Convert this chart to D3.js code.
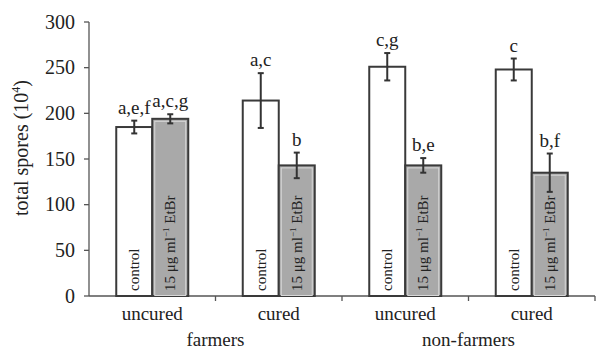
<!DOCTYPE html>
<html>
<head>
<meta charset="utf-8">
<script src="https://cdn.jsdelivr.net/npm/d3@7"></script>
</head>
<body style="margin:0;background:#fff">
<svg id="chart" width="598" height="351" style="font-family:'Liberation Serif'"></svg>
<script>
// categories
var groups = ['farmers', 'non-farmers'];
var categories = ['farmers uncured', 'farmers cured', 'non-farmers uncured', 'non-farmers cured'];
var categoryLabels = ['uncured', 'cured', 'uncured', 'cured'];
var treatments = ['control', 'EtBr'];

// series values (10^4 spores)
var controlValues = [185, 214, 251, 248];
var controlErrors = [7, 30, 15, 12];
var etbrValues = [194, 143, 143, 135];
var etbrErrors = [5, 14, 8, 21];

// significance letters
var controlLetters = ['a,e,f', 'a,c', 'c,g', 'c'];
var etbrLetters = ['a,c,g', 'b', 'b,e', 'b,f'];

var yTicks = [0, 50, 100, 150, 200, 250, 300];

var svg = d3.select('#chart');
var margin = { top: 22, right: 3, bottom: 55, left: 89 };
var width = 598 - margin.left - margin.right;
var height = 351 - margin.top - margin.bottom;

var g = svg.append('g')
  .attr('transform', 'translate(' + margin.left + ',' + margin.top + ')');

var x = d3.scaleBand()
  .domain(categories)
  .range([0, width]);

var xInner = d3.scaleBand()
  .domain(treatments)
  .range([0, 72]);

var y = d3.scaleLinear()
  .domain([0, 300])
  .range([height, 0]);

var offset = (x.bandwidth() - 72) / 2;

// y axis, drawn by hand from the scale
var yAxis = g.append('g').attr('class', 'y axis');
yAxis.append('line')
  .attr('x1', 0).attr('x2', 0)
  .attr('y1', y(300)).attr('y2', y(0))
  .attr('stroke', '#555').attr('stroke-width', 1.3);
var yt = yAxis.selectAll('.tick')
  .data(yTicks)
  .enter().append('g')
  .attr('class', 'tick')
  .attr('transform', function (d) { return 'translate(0,' + y(d) + ')'; });
yt.append('line')
  .attr('x1', -5).attr('x2', 0)
  .attr('stroke', '#555').attr('stroke-width', 1.3);
yt.append('text')
  .attr('x', -14)
  .attr('dy', '0.34em')
  .attr('text-anchor', 'end')
  .attr('font-size', 20)
  .text(function (d) { return d; });

// x axis
g.append('line')
  .attr('x1', 0).attr('x2', width)
  .attr('y1', y(0)).attr('y2', y(0))
  .attr('stroke', '#555').attr('stroke-width', 1.3);

var boundaries = categories.map(function (c) { return x(c) + x.bandwidth(); });
g.selectAll('.xtick')
  .data(boundaries)
  .enter().append('line')
  .attr('x1', function (d) { return d; })
  .attr('x2', function (d) { return d; })
  .attr('y1', y(0))
  .attr('y2', y(0) + 5)
  .attr('stroke', '#555').attr('stroke-width', 1.3);

g.selectAll('.catlabel')
  .data(categories)
  .enter().append('text')
  .attr('x', function (d) { return x(d) + x.bandwidth() / 2; })
  .attr('y', height + 24)
  .attr('text-anchor', 'middle')
  .attr('font-size', 19)
  .text(function (d, i) { return categoryLabels[i]; });

g.selectAll('.grouplabel')
  .data(groups)
  .enter().append('text')
  .attr('x', function (d, i) { return x(categories[i * 2]) + x.bandwidth(); })
  .attr('y', height + 50)
  .attr('text-anchor', 'middle')
  .attr('font-size', 19)
  .text(function (d) { return d; });

// y label
var yLabel = g.append('text')
  .attr('transform', 'translate(-61,' + (height / 2 - 11) + ') rotate(-90)')
  .attr('text-anchor', 'middle')
  .attr('font-size', 20);
yLabel.append('tspan').text('total spores (10');
yLabel.append('tspan').attr('dy', -8).attr('font-size', 12).text('4');
yLabel.append('tspan').attr('dy', 8).text(')');

// bars data
var bars = [];
categories.forEach(function (c, i) {
  bars.push({ cat: c, t: 'control', v: controlValues[i], e: controlErrors[i], letter: controlLetters[i] });
  bars.push({ cat: c, t: 'EtBr', v: etbrValues[i], e: etbrErrors[i], letter: etbrLetters[i] });
});

function bx(d) { return x(d.cat) + offset + xInner(d.t); }

var barG = g.selectAll('.bar')
  .data(bars)
  .enter().append('g')
  .attr('class', 'bar');

barG.append('rect')
  .attr('x', bx)
  .attr('y', function (d) { return y(d.v); })
  .attr('width', xInner.bandwidth())
  .attr('height', function (d) { return y(0) - y(d.v); })
  .attr('fill', function (d) { return d.t === 'control' ? '#fff' : '#a9a9a9'; })
  .attr('stroke', '#3a3a3a')
  .attr('stroke-width', 2);

// inner light edge on gray bars
barG.filter(function (d) { return d.t === 'EtBr'; })
  .append('rect')
  .attr('x', function (d) { return bx(d) + 2.5; })
  .attr('y', function (d) { return y(d.v) + 2.5; })
  .attr('width', xInner.bandwidth() - 5)
  .attr('height', function (d) { return y(0) - y(d.v) - 3; })
  .attr('fill', 'none')
  .attr('stroke', '#d8d8d8')
  .attr('stroke-width', 1);

// error bars
var errG = barG.append('g')
  .attr('stroke', '#333')
  .attr('stroke-width', 2);
errG.append('line')
  .attr('x1', function (d) { return bx(d) + xInner.bandwidth() / 2; })
  .attr('x2', function (d) { return bx(d) + xInner.bandwidth() / 2; })
  .attr('y1', function (d) { return y(d.v + d.e); })
  .attr('y2', function (d) { return y(d.v - d.e); });
errG.selectAll('.cap')
  .data(function (d) { return [d.v + d.e, d.v - d.e].map(function (v) { return { d: d, v: v }; }); })
  .enter().append('line')
  .attr('x1', function (c) { return bx(c.d) + xInner.bandwidth() / 2 - 3; })
  .attr('x2', function (c) { return bx(c.d) + xInner.bandwidth() / 2 + 3; })
  .attr('y1', function (c) { return y(c.v); })
  .attr('y2', function (c) { return y(c.v); });

// letters
barG.append('text')
  .attr('x', function (d) { return bx(d) + xInner.bandwidth() / 2; })
  .attr('y', function (d) { return y(d.v + d.e) - 7; })
  .attr('text-anchor', 'middle')
  .attr('font-size', 19)
  .text(function (d) { return d.letter; });

// labels inside bars
var inner = barG.append('text')
  .attr('transform', function (d) {
    return 'translate(' + (bx(d) + xInner.bandwidth() / 2 + 5) + ',' + (y(0) - 5) + ') rotate(-90)';
  })
  .attr('text-anchor', 'start')
  .attr('font-size', 15);
inner.filter(function (d) { return d.t === 'control'; }).text('control');
var etLabel = inner.filter(function (d) { return d.t === 'EtBr'; });
etLabel.append('tspan').text('15 μg ml');
etLabel.append('tspan').attr('dy', -6).attr('font-size', 9).text('−1');
etLabel.append('tspan').attr('dy', 6).text(' EtBr');

// name the font on every text element directly
svg.selectAll('text, tspan')
  .style('font-family', '"Liberation Serif"');
svg.selectAll('text').attr('fill', '#222');
</script>
</body>
</html>
